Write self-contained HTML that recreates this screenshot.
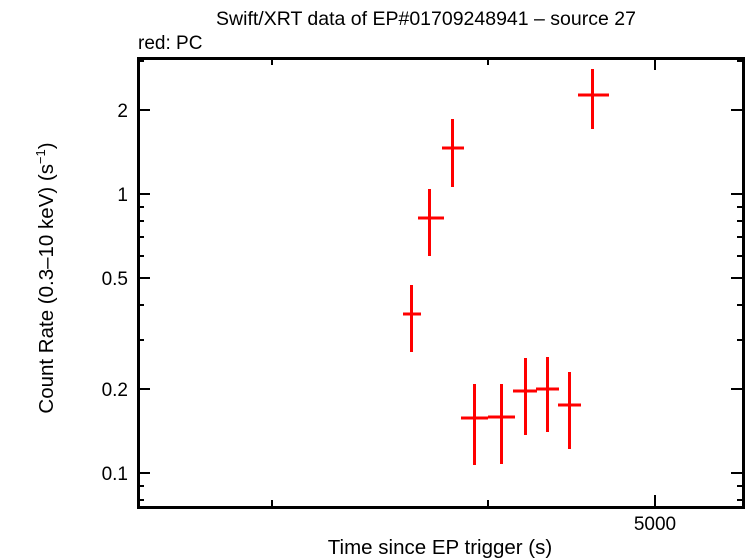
<!DOCTYPE html>
<html><head><style>body{margin:0;background:#fff}svg{display:block}text{font-family:"Liberation Sans",sans-serif;fill:#000}</style></head><body>
<svg width="746" height="558" xmlns="http://www.w3.org/2000/svg">
<text x="426" y="25" font-size="19.5" text-anchor="middle">Swift/XRT data of EP#01709248941 – source 27</text>
<text x="138" y="49" font-size="19">red: PC</text>
<g stroke="#000" stroke-width="2">
<rect x="138.5" y="58.5" width="605" height="449" fill="none" stroke-width="3"/>
<line x1="138" y1="110" x2="150" y2="110"/><line x1="743" y1="110" x2="731" y2="110"/>
<line x1="138" y1="194" x2="150" y2="194"/><line x1="743" y1="194" x2="731" y2="194"/>
<line x1="138" y1="278" x2="150" y2="278"/><line x1="743" y1="278" x2="731" y2="278"/>
<line x1="138" y1="389" x2="150" y2="389"/><line x1="743" y1="389" x2="731" y2="389"/>
<line x1="138" y1="473" x2="150" y2="473"/><line x1="743" y1="473" x2="731" y2="473"/>
<g>
<line x1="138" y1="61" x2="144" y2="61"/><line x1="743" y1="61" x2="737" y2="61"/>
<line x1="138" y1="207" x2="144" y2="207"/><line x1="743" y1="207" x2="737" y2="207"/>
<line x1="138" y1="221" x2="144" y2="221"/><line x1="743" y1="221" x2="737" y2="221"/>
<line x1="138" y1="237" x2="144" y2="237"/><line x1="743" y1="237" x2="737" y2="237"/>
<line x1="138" y1="256" x2="144" y2="256"/><line x1="743" y1="256" x2="737" y2="256"/>
<line x1="138" y1="305" x2="144" y2="305"/><line x1="743" y1="305" x2="737" y2="305"/>
<line x1="138" y1="340" x2="144" y2="340"/><line x1="743" y1="340" x2="737" y2="340"/>
<line x1="138" y1="486" x2="144" y2="486"/><line x1="743" y1="486" x2="737" y2="486"/>
<line x1="138" y1="500" x2="144" y2="500"/><line x1="743" y1="500" x2="737" y2="500"/>
</g>
<line x1="272" y1="507" x2="272" y2="500"/><line x1="272" y1="58" x2="272" y2="65"/>
<line x1="488" y1="507" x2="488" y2="500"/><line x1="488" y1="58" x2="488" y2="65"/>
<line x1="655" y1="507" x2="655" y2="495"/><line x1="655" y1="58" x2="655" y2="70"/>
</g>
<g font-size="19" text-anchor="end">
<text x="128" y="117">2</text><text x="128" y="201">1</text><text x="128" y="285">0.5</text>
<text x="128" y="396">0.2</text><text x="128" y="480">0.1</text>
</g>
<text x="655" y="530" font-size="19" text-anchor="middle">5000</text>
<text x="440" y="554" font-size="20.5" text-anchor="middle">Time since EP trigger (s)</text>
<text transform="translate(53,278) rotate(-90)" font-size="20.5" text-anchor="middle">Count Rate (0.3–10 keV) (s<tspan font-size="13" dy="-8">−1</tspan><tspan dy="8">)</tspan></text>
<g stroke="#f00" stroke-width="3">
<path d="M403 314H421M411.5 285V352"/>
<path d="M418 218H444M429.5 189V256"/>
<path d="M442 148H464M452.5 119V187"/>
<path d="M461 418H488M474.5 384V465"/>
<path d="M488 417H515M501.5 384V464"/>
<path d="M513 391H537M525.5 358V435"/>
<path d="M536 389H559M547.5 357V432"/>
<path d="M558 405H581M569.5 372V449"/>
<path d="M578 95H609M592.5 69V129"/>
</g>
</svg>
</body></html>
